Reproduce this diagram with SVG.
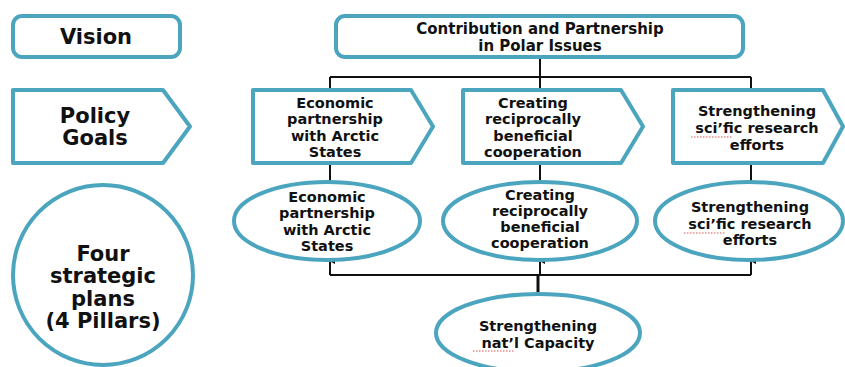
<svg xmlns="http://www.w3.org/2000/svg" width="845" height="367" viewBox="0 0 845 367">
<style>
.box{fill:#fff;stroke:#4ba5bf;stroke-width:4;stroke-linejoin:round}
.t{font-family:"DejaVu Sans","Open Sans",sans-serif;font-weight:bold;fill:#111;text-anchor:middle;font-size:14.5px}
.big{font-size:21px}
.mid{font-size:15px}
.ln{fill:none;stroke:#111;stroke-width:2}
.sq{fill:none;stroke:#e05050;stroke-width:1;stroke-dasharray:1.5 1.5}
</style>
<defs>
<marker id="ah" viewBox="0 0 8 8" refX="4" refY="1" markerWidth="6" markerHeight="6" orient="auto-start-reverse" markerUnits="userSpaceOnUse">
<path d="M0,8 L4,0 L8,8 Z" fill="#111"/>
</marker>
</defs>
<g id="connectors">
<path class="ln" d="M540,57 V77 M330,77 H751 M330,77 V90 M540,77 V90 M751,77 V90"/>
<path class="ln" d="M330,163 V183 M540,163 V183 M751,163 V183"/>
<path class="ln" d="M330,275 H751"/>
<path class="ln" d="M538,293 V275" style="stroke-width:3"/>
<path class="ln" d="M330,275 V261" marker-end="url(#ah)"/>
<path class="ln" d="M540,275 V261" marker-end="url(#ah)"/>
<path class="ln" d="M751,275 V261" marker-end="url(#ah)"/>
</g>
<g id="vision">
<rect class="box" x="13" y="16" width="167" height="41" rx="9"/>
<text class="t big" x="96" y="44">Vision</text>
</g>
<g id="contribution">
<rect class="box" x="336" y="16" width="407" height="41" rx="9"/>
<text class="t mid" x="540" y="34">Contribution and Partnership</text>
<text class="t mid" x="540" y="51">in Polar Issues</text>
</g>
<g id="policy-goals">
<path class="box" d="M13,90 H163 L190,126.5 L163,163 H13 Z"/>
<text class="t big" x="95" y="123">Policy</text>
<text class="t big" x="95" y="145">Goals</text>
</g>
<g id="goal-economic">
<path class="box" d="M253,90 H411 L433,126.5 L411,163 H253 Z"/>
<text class="t" x="335" y="108">Economic</text>
<text class="t" x="335" y="124">partnership</text>
<text class="t" x="335" y="141">with Arctic</text>
<text class="t" x="335" y="157">States</text>
</g>
<g id="goal-creating">
<path class="box" d="M463,90 H621 L643,126.5 L621,163 H463 Z"/>
<text class="t" x="533" y="108">Creating</text>
<text class="t" x="533" y="124">reciprocally</text>
<text class="t" x="533" y="141">beneficial</text>
<text class="t" x="533" y="157">cooperation</text>
</g>
<g id="goal-science">
<path class="box" d="M673,90 H823 L843,126.5 L823,163 H673 Z"/>
<text class="t" x="757" y="116">Strengthening</text>
<text class="t" x="757" y="133">sci’fic research</text>
<text class="t" x="757" y="150">efforts</text>
<path class="sq" d="M691,137 H733"/>
</g>
<g id="four-plans">
<ellipse class="box" cx="103" cy="275" rx="90" ry="90"/>
<text class="t big" x="103" y="261">Four</text>
<text class="t big" x="103" y="283">strategic</text>
<text class="t big" x="103" y="306">plans</text>
<text class="t big" x="103" y="328">(4 Pillars)</text>
</g>
<g id="pillar-economic">
<ellipse class="box" cx="327" cy="221" rx="93" ry="39"/>
<text class="t" x="327" y="202">Economic</text>
<text class="t" x="327" y="218">partnership</text>
<text class="t" x="327" y="235">with Arctic</text>
<text class="t" x="327" y="251">States</text>
</g>
<g id="pillar-creating">
<ellipse class="box" cx="540" cy="221" rx="97" ry="39"/>
<text class="t" x="540" y="200">Creating</text>
<text class="t" x="540" y="216">reciprocally</text>
<text class="t" x="540" y="232">beneficial</text>
<text class="t" x="540" y="248">cooperation</text>
</g>
<g id="pillar-science">
<ellipse class="box" cx="749" cy="221" rx="94" ry="39"/>
<text class="t" x="750" y="212">Strengthening</text>
<text class="t" x="750" y="229">sci’fic research</text>
<text class="t" x="750" y="245">efforts</text>
<path class="sq" d="M684,233 H726"/>
</g>
<g id="pillar-capacity">
<ellipse class="box" cx="538" cy="333" rx="102" ry="39"/>
<text class="t" x="538" y="331">Strengthening</text>
<text class="t" x="538" y="348">nat’l Capacity</text>
<path class="sq" d="M473,351 H515"/>
</g>
</svg>
